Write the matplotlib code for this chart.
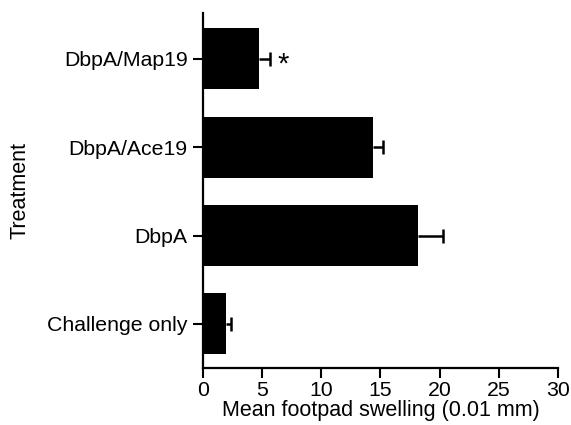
import matplotlib
matplotlib.use('Agg')
import matplotlib.pyplot as plt
import numpy as np

plt.rcParams['font.family'] = ['Liberation Sans', 'DejaVu Sans']

# data, bottom to top
treatments = ['Challenge only', 'DbpA', 'DbpA/Ace19', 'DbpA/Map19']
swelling = [1.94, 18.2, 14.4, 4.73]
sem = [0.42, 2.1, 0.8, 0.93]
signif = ['', '', '', '*']

fig = plt.figure(figsize=(5.71, 4.25), dpi=100)
ax = fig.add_axes([0.3555, 0.1341, 0.6215, 0.8353])

pos = np.arange(len(treatments))
ax.barh(pos, swelling, height=0.69, color='black')
eb = ax.errorbar(swelling, pos, xerr=[np.zeros(len(sem)), sem], fmt='none',
                 ecolor='black', elinewidth=1.8, capsize=5, capthick=1.8)
# one-sided error bars: hide the cap at the bar end
eb[1][0].set_visible(False)

for i, s in enumerate(signif):
    if s:
        ax.text(swelling[i] + sem[i] + 0.6, pos[i] - 0.06, s, fontsize=21,
                ha='left', va='center')

ax.set_xlim(0, 30)
ax.set_ylim(-0.5, 3.52)
ax.set_xticks(np.arange(0, 31, 5))
ax.set_yticks(pos)
ax.set_yticklabels(treatments)

ax.spines['top'].set_visible(False)
ax.spines['right'].set_visible(False)
for sp in ['left', 'bottom']:
    ax.spines[sp].set_linewidth(1.6)

ax.tick_params(axis='y', length=7, width=1.5, pad=4, labelsize=15.3)
ax.tick_params(axis='x', length=7, width=1.5, pad=2, labelsize=15.3)

ax.set_xlabel('Mean footpad swelling (0.01 mm)', fontsize=15.5, labelpad=0)
ax.set_ylabel('Treatment', fontsize=15.5, labelpad=12)

fig.savefig('out.png', dpi=100)
